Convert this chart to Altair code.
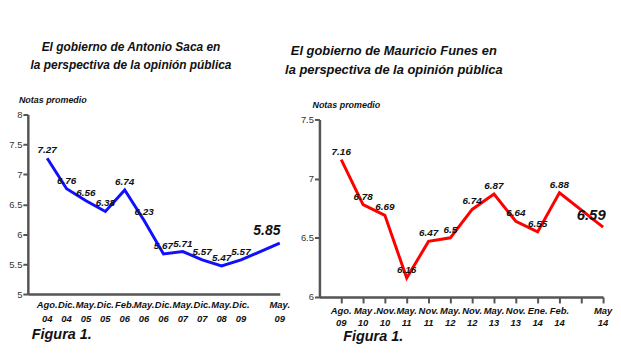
import altair as alt
import pandas as pd

# ---- data ----
saca_pos = [0, 1, 2, 3, 4, 5, 6, 7, 8, 9, 10, 12]
saca_vals = [7.27, 6.76, 6.56, 6.38, 6.74, 6.23, 5.67, 5.71, 5.57, 5.47, 5.57, 5.85]
saca_lab1 = ["Ago.", "Dic.", "May.", "Dic.", "Feb.", "May.", "Dic.", "May.", "Dic.", "May.", "Dic.", "May."]
saca_lab2 = ["04", "04", "05", "05", "06", "06", "06", "07", "07", "08", "09", "09"]
saca_yticks = [5, 5.5, 6, 6.5, 7, 7.5, 8]

funes_pos = [0, 1, 2, 3, 4, 5, 6, 7, 8, 9, 10, 12]
funes_vals = [7.16, 6.78, 6.69, 6.16, 6.47, 6.5, 6.74, 6.87, 6.64, 6.55, 6.88, 6.59]
funes_lab1 = ["Ago.", "May", ".Nov.", "May.", "Nov.", "May.", "Nov.", "May.", "Nov.", "Ene.", "Feb.", "May"]
funes_lab2 = ["09", "10", "10", "11", "11", "12", "12", "13", "13", "14", "14", "14"]
funes_yticks = [6, 6.5, 7, 7.5]
funes_xticks = [0, 1, 2, 3, 4, 5, 6, 7, 8, 9, 10, 11, 12]

FONT = "Liberation Sans, Arial, sans-serif"


def static_text(txt, x, y, size, align="center"):
    return alt.Chart(pd.DataFrame({"t": [txt]})).mark_text(
        font=FONT, fontSize=size, fontStyle="italic", fontWeight="bold",
        align=align, baseline="middle", color="#111"
    ).encode(x=alt.value(x), y=alt.value(y), text="t:N")


def panel(pos, vals, lab1, lab2, color, width, height, yscale, yticks, xaxis,
          title1, title2, tx, ty1, ty2, tsize, notas_xy, fig_xy, lab_y1, lab_y2,
          big_dx, big_dy, big_size):
    df = pd.DataFrame({
        "x": pos, "y": vals, "l1": lab1, "l2": lab2,
        "t": [f"{v:g}" for v in vals],
    })
    xs = alt.Scale(domain=[-1, 12], nice=False, zero=False)
    base = alt.Chart(df)
    line = base.mark_line(color=color, strokeWidth=3, strokeJoin="miter").encode(
        x=alt.X("x:Q", scale=xs, axis=xaxis),
        y=alt.Y("y:Q", scale=yscale,
                axis=alt.Axis(values=yticks, tickCount=len(yticks), format="~g",
                              title=None, grid=False, tickSize=5, labelPadding=1,
                              labelOverlap=False)),
    )
    labels = base.transform_filter(alt.datum.x < 12).mark_text(
        font=FONT, fontSize=10, fontStyle="italic", fontWeight="bold",
        dy=-8, color="#111"
    ).encode(x=alt.X("x:Q", scale=xs), y=alt.Y("y:Q", scale=yscale), text="t:N")
    big = base.transform_filter(alt.datum.x == 12).mark_text(
        font=FONT, fontSize=big_size, fontStyle="italic", fontWeight="bold",
        dx=big_dx, dy=big_dy, color="#111"
    ).encode(x=alt.X("x:Q", scale=xs), y=alt.Y("y:Q", scale=yscale), text="t:N")
    xl1 = base.mark_text(font=FONT, fontSize=9.5, fontStyle="italic", fontWeight="bold",
                         color="#111").encode(
        x=alt.X("x:Q", scale=xs), y=alt.value(lab_y1), text="l1:N")
    xl2 = base.mark_text(font=FONT, fontSize=9.5, fontStyle="italic", fontWeight="bold",
                         color="#111").encode(
        x=alt.X("x:Q", scale=xs), y=alt.value(lab_y2), text="l2:N")
    t1 = static_text(title1, tx, ty1, tsize)
    t2 = static_text(title2, tx, ty2, tsize)
    notas = static_text("Notas promedio", notas_xy[0], notas_xy[1], 9, align="left")
    fig = static_text("Figura 1.", fig_xy[0], fig_xy[1], 14.5, align="left")
    return alt.layer(line, labels, big, xl1, xl2, t1, t2, notas, fig).properties(
        width=width, height=height
    )


left = panel(
    saca_pos, saca_vals, saca_lab1, saca_lab2, "#1010ff", 254, 181,
    alt.Scale(domain=[5, 8], nice=False, zero=False), saca_yticks,
    alt.Axis(labels=False, ticks=False, title=None, grid=False),
    "El gobierno de Antonio Saca en", "la perspectiva de la opinión pública",
    104, -68, -50, 12, (-9, -15), (4, 222), 192, 206, -13, -12, 14,
)
right = panel(
    funes_pos, funes_vals, funes_lab1, funes_lab2, "#ff0000", 286, 184,
    alt.Scale(domain=[6, 7.5], nice=False, zero=False, range=[184, 5]), funes_yticks,
    alt.Axis(labels=False, ticks=True, values=funes_xticks, tickCount=len(funes_xticks),
             tickSize=6, title=None, grid=False),
    "El gobierno de Mauricio Funes en", "la perspectiva de la opinión pública",
    75, -64, -45, 13, (-7, -10), (24, 224), 198, 210, -12, -12, 15,
)

chart = alt.hconcat(left, right, spacing=40, bounds="flush").properties(
    padding={"left": 0, "top": 32, "right": 0, "bottom": 0}
).configure_view(stroke=None).configure_axis(
    domainColor="#555", domainWidth=2.5, tickColor="#555", tickWidth=2,
    labelFont=FONT, labelFontSize=9.5, labelColor="#333",
)

chart.save("out.html", embed_options={"renderer": "svg", "actions": False})
